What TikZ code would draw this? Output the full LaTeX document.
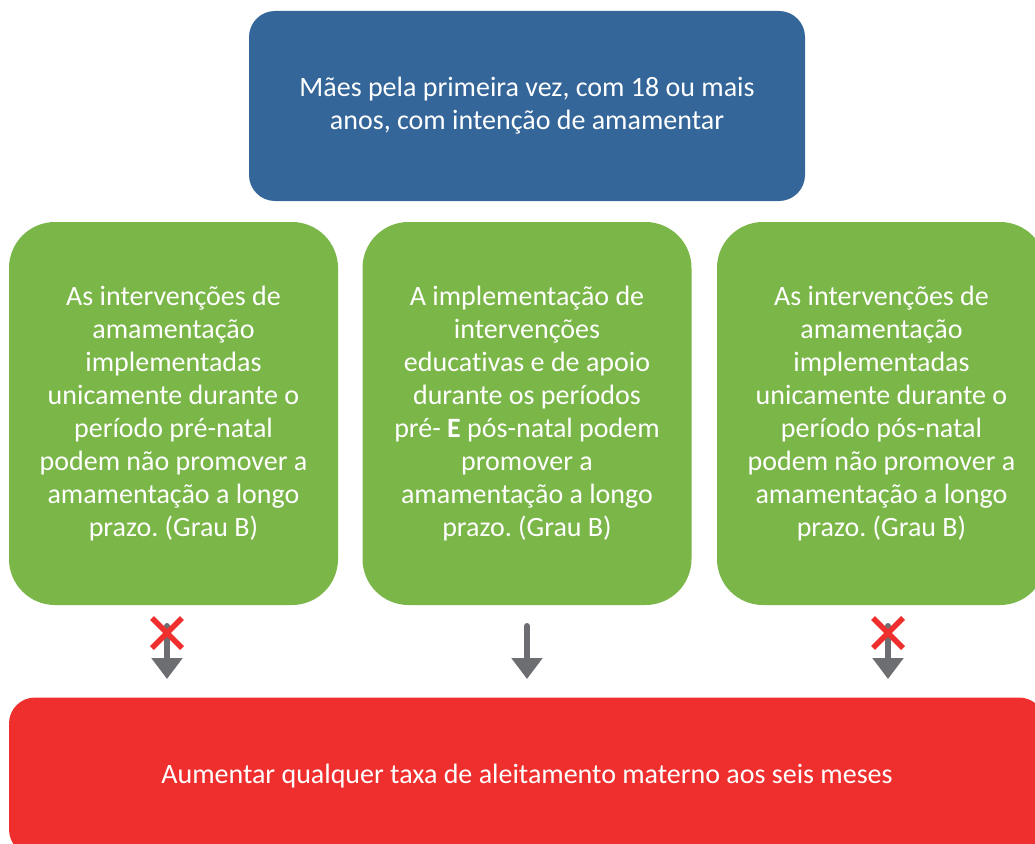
\documentclass[tikz,border=0pt]{standalone}
\usepackage{fontspec}
\setmainfont{Carlito}[Ligatures=NoCommon]
\frenchspacing
\usetikzlibrary{arrows.meta,calc}
\definecolor{topblue}{HTML}{346699}
\definecolor{boxgreen}{HTML}{7AB648}
\definecolor{boxred}{HTML}{EE2F2D}
\definecolor{arrowgray}{HTML}{6D6E71}
\tikzset{
  box/.style={rounded corners=#1, text=white, align=center, inner sep=0pt,
    font=\fontsize{28}{33}\selectfont},
  topbox/.style={box=26pt, fill=topblue, minimum width=556pt, minimum height=190pt},
  greenbox/.style={box=46pt, fill=boxgreen, minimum width=329pt, minimum height=383pt},
  redbox/.style={box=26pt, fill=boxred, minimum width=1036pt, minimum height=158pt},
  downarrow/.style={draw=arrowgray, line width=6pt, line cap=round,
    -{Triangle[width=30pt,length=21pt]}},
  crossline/.style={draw=boxred, line width=5.5pt}
}
\begin{document}
\begin{tikzpicture}[x=1pt,y=-1pt]
\useasboundingbox (0,0) rectangle (1035,843);
\clip (0,0) rectangle (1035,843);
\node[topbox] (top) at (527,106) {Mães pela primeira vez, com 18 ou mais\\anos, com intenção de amamentar};
\node[greenbox] (g1) at (173.5,413.5) {As intervenções de\\amamentação\\implementadas\\unicamente durante o\\período pré-natal\\podem não promover a\\amamentação a longo\\prazo. (Grau B)};
\node[greenbox] (g2) at (527,413.5) {A implementação de\\intervenções\\educativas e de apoio\\durante os períodos\\pré- \textbf{E} pós-natal podem\\promover a\\amamentação a longo\\prazo. (Grau B)};
\node[greenbox] (g3) at (881.5,413.5) {As intervenções de\\amamentação\\implementadas\\unicamente durante o\\período pós-natal\\podem não promover a\\amamentação a longo\\prazo. (Grau B)};
\node[redbox] (res) at (527,776.5) {Aumentar qualquer taxa de aleitamento materno aos seis meses};
% arrow coordinates
\coordinate (a1s) at (167,626);
\coordinate (a1e) at (167,679);
\coordinate (a2s) at (527,626);
\coordinate (a2e) at (527,679);
\coordinate (a3s) at (888,626);
\coordinate (a3e) at (888,679);
\draw[downarrow] (a1s) -- (a1e);
\draw[downarrow] (a2s) -- (a2e);
\draw[downarrow] (a3s) -- (a3e);
% crosses
\coordinate (c1) at (167,633);
\coordinate (c3) at (888,633);
\draw[crossline] ($(c1)+(-15,-15)$) -- ($(c1)+(15,15)$);
\draw[crossline] ($(c1)+(-15,15)$) -- ($(c1)+(15,-15)$);
\draw[crossline] ($(c3)+(-15,-15)$) -- ($(c3)+(15,15)$);
\draw[crossline] ($(c3)+(-15,15)$) -- ($(c3)+(15,-15)$);
\end{tikzpicture}
\end{document}
